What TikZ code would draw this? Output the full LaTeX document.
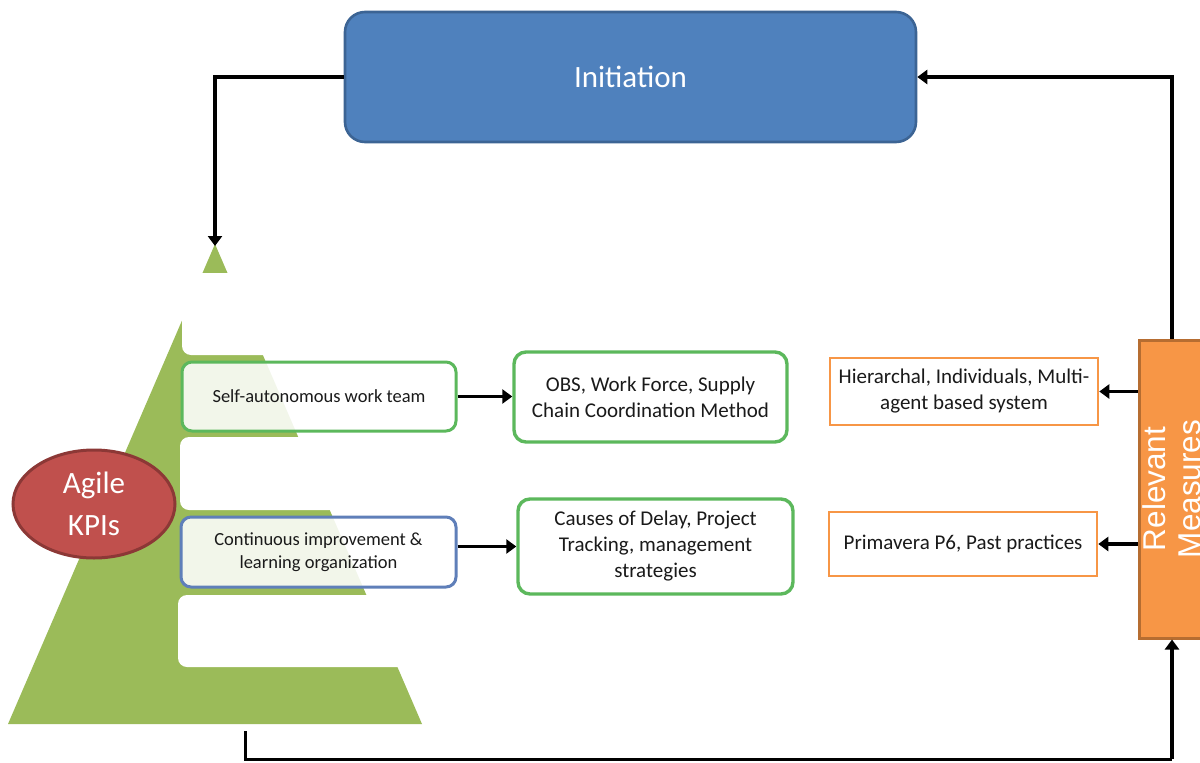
\documentclass[tikz,border=0pt]{standalone}
\usepackage{fontspec}
\setmainfont{Carlito}
\newfontfamily\arialf{Liberation Sans}
\usetikzlibrary{arrows.meta,shapes.geometric}

\definecolor{pyrgreen}{HTML}{9BBB59}
\definecolor{initfill}{HTML}{4F81BD}
\definecolor{initline}{HTML}{3C6494}
\definecolor{kpifill}{HTML}{C0504D}
\definecolor{kpiline}{HTML}{8C3836}
\definecolor{rmfill}{HTML}{F79646}
\definecolor{rmline}{HTML}{B66D31}
\definecolor{grnline}{HTML}{5CB85C}
\definecolor{bluline}{HTML}{5F7FB9}
\definecolor{txt}{HTML}{1A1A1A}

\tikzset{
  conn/.style={line width=3.6pt, draw=black, -{Triangle[length=10pt,width=14pt]}},
  plainconn/.style={line width=3pt, draw=black},
  tierbox/.style={rounded corners=10pt, line width=3pt, fill=white, fill opacity=0.88,
    text opacity=1, text=txt, align=center, inner sep=0pt,
    font=\fontsize{18.5}{23}\selectfont},
  greenbox/.style={rounded corners=12pt, line width=3.4pt, draw=grnline, fill=white,
    text=txt, align=center, inner sep=0pt, font=\fontsize{21}{26}\selectfont},
  orangebox/.style={line width=2.6pt, draw=rmfill, fill=white,
    text=txt, align=center, inner sep=0pt, font=\fontsize{21}{26}\selectfont},
  gap/.style={fill=white, rounded corners=9pt},
}

\begin{document}
\begin{tikzpicture}[x=1pt,y=-1pt]
\useasboundingbox (0,0) rectangle (1200,763);
\clip (0,0) rectangle (1200,763);

% pyramid and its white cut-outs
\coordinate (apex) at (215,244);
\coordinate (kbase) at (245,731);
\fill[pyrgreen] (apex) -- (8,724) -- (422,724) -- cycle;
\fill[white] (150,273) rectangle (260,290);
\fill[gap] (182,273) rectangle (480,355);
\fill[gap] (180,437) rectangle (480,510);
\fill[gap] (178,595) rectangle (480,667);

% tier labels
\node[tierbox, draw=grnline, minimum width=274pt, minimum height=69pt] (self) at (319,396.5)
  {Self-autonomous work team};
\node[tierbox, draw=bluline, minimum width=275pt, minimum height=70pt] (cont) at (318.5,552)
  {Continuous improvement \&\\learning organization};

% agile KPIs badge
\node[ellipse, fill=kpifill, draw=kpiline, line width=3pt, minimum width=162pt,
  minimum height=108pt, inner sep=0pt, text=white, align=center,
  font=\fontsize{31}{42}\selectfont] (kpi) at (94,504) {Agile\\KPIs};

% initiation
\node[rounded corners=20pt, fill=initfill, draw=initline, line width=2.6pt,
  minimum width=571pt, minimum height=130pt, text=white,
  font=\fontsize{31}{36}\selectfont] (init) at (630.5,77) {Initiation};

% relevant measures
\node[fill=rmfill, draw=rmline, line width=3pt, minimum width=66pt,
  minimum height=298pt, inner sep=0pt] (rm) at (1172,489) {};
\node[rotate=90, text=white, align=center, inner sep=0pt,
  font=\arialf\fontsize{31.5}{35}\selectfont] (rmtext) at (rm.center) {Relevant\\Measures};

% outcome boxes
\node[greenbox, minimum width=273pt, minimum height=90pt] (obs) at (650.5,397)
  {OBS, Work Force, Supply\\Chain Coordination Method};
\node[greenbox, minimum width=275pt, minimum height=95pt] (cause) at (655.5,546.5)
  {Causes of Delay, Project\\Tracking, management\\strategies};
\node[orangebox, minimum width=268pt, minimum height=67pt] (hier) at (964,391.5)
  {Hierarchal, Individuals, Multi-\\agent based system};
\node[orangebox, minimum width=268pt, minimum height=64pt] (prim) at (963,544)
  {Primavera P6, Past practices};

% connectors
\coordinate (loop) at (1172,759);
\draw[conn] (init.west) -| ([yshift=-2pt]apex);
\draw[conn] (rm.north) |- (init.east);
\draw[plainconn] (kbase) |- (loop);
\draw[conn] (loop) -- (rm.south);
\draw[conn] (self.east) -- (self.east -| obs.west);
\draw[conn] (cont.east |- cause.west) -- (cause.west);
\draw[conn] (rm.west |- hier.east) -- (hier.east);
\draw[conn] (rm.west |- prim.east) -- (prim.east);
\end{tikzpicture}
\end{document}
